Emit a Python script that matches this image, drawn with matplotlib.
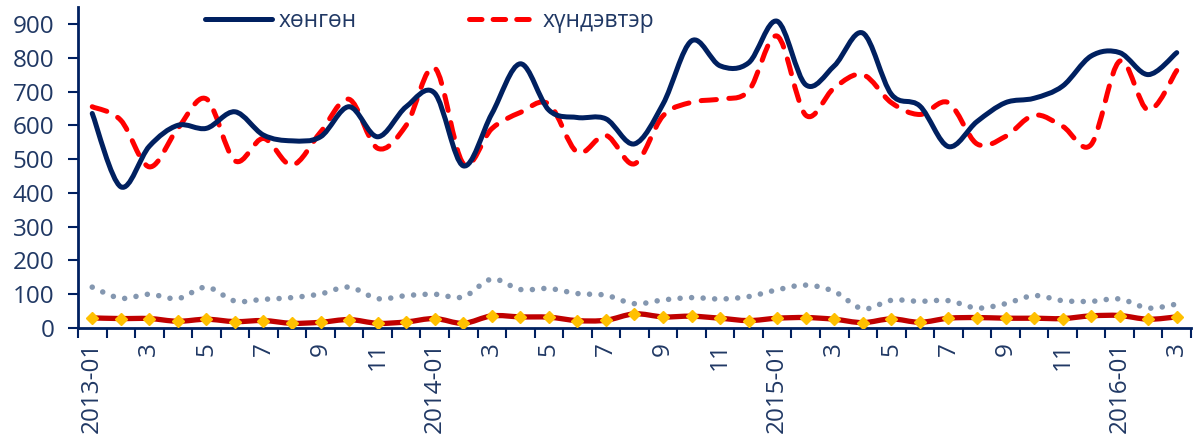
import numpy as np
import matplotlib
matplotlib.use('Agg')
import matplotlib.pyplot as plt
from matplotlib.path import Path
from matplotlib.patches import PathPatch
from matplotlib.lines import Line2D

plt.rcParams['font.family'] = ['Open Sans', 'DejaVu Sans']
plt.rcParams['lines.scale_dashes'] = False

# --- data: monthly, 2013-01 .. 2016-03 ---
months = ['2013-01', '2', '3', '4', '5', '6', '7', '8', '9', '10', '11', '12',
          '2014-01', '2', '3', '4', '5', '6', '7', '8', '9', '10', '11', '12',
          '2015-01', '2', '3', '4', '5', '6', '7', '8', '9', '10', '11', '12',
          '2016-01', '2', '3']

light = [635, 418, 538, 600, 591, 640, 571, 554, 566, 655, 566, 655,
         695, 480, 634, 782, 645, 623, 619, 545, 663, 850, 776, 785,
         908, 720, 776, 873, 692, 657, 537, 611, 667, 680, 716, 805,
         815, 750, 815]

heavy = [655, 615, 477, 591, 678, 495, 561, 482, 580, 677, 532, 600,
         770, 487, 590, 638, 663, 520, 570, 486, 628, 668, 678, 702,
         864, 630, 711, 750, 667, 632, 667, 545, 567, 630, 597, 543,
         790, 645, 762]

medium = [121, 88, 100, 87, 121, 80, 85, 90, 101, 121, 87, 96,
          100, 92, 145, 114, 117, 102, 97, 72, 83, 90, 86, 93,
          113, 127, 108, 57, 82, 79, 81, 59, 72, 96, 81, 79,
          86, 59, 71]

severe = [30, 28, 28, 20, 26, 19, 22, 14, 17, 25, 14, 18,
          28, 14, 36, 33, 32, 22, 23, 42, 33, 35, 29, 22,
          29, 31, 26, 16, 27, 17, 29, 31, 29, 29, 28, 36,
          37, 26, 33]

NAVY = '#002060'
TEXT = '#203864'


def smooth_path(x, y):
    """Кривая Безье через все точки (сглаживание как в Excel)."""
    pts = np.column_stack([x, y]).astype(float)
    n = len(pts)
    verts = [pts[0]]
    codes = [Path.MOVETO]
    for i in range(n - 1):
        p0 = pts[i - 1] if i > 0 else pts[i]
        p1 = pts[i]
        p2 = pts[i + 1]
        p3 = pts[i + 2] if i + 2 < n else pts[i + 1]
        c1 = p1 + (p2 - p0) / 6.0
        c2 = p2 - (p3 - p1) / 6.0
        verts += [c1, c2, p2]
        codes += [Path.CURVE4] * 3
    return Path(verts, codes)


def add_curve(ax, x, y, **kw):
    patch = PathPatch(smooth_path(x, y), fill=False, transform=ax.transData,
                      capstyle='round', joinstyle='round', **kw)
    ax.add_patch(patch)
    return patch


fig = plt.figure(figsize=(11.94, 4.4), dpi=100)
ax = fig.add_axes([0.0653, 0.2545, 0.9322, 0.7295])

x = np.arange(len(months))

add_curve(ax, x, medium, edgecolor='#8497B0', linewidth=4.0,
          linestyle=(0, (0.01, 8.3)), zorder=2)
add_curve(ax, x, severe, edgecolor='#C00000', linewidth=3.8, zorder=3)
ax.plot(x, severe, linestyle='none', marker='D', markersize=6.5,
        color='#FFC000', markeredgecolor='#FFC000', zorder=4)
add_curve(ax, x, heavy, edgecolor='#FF0000', linewidth=3.6,
          linestyle=(0, (11, 9)), zorder=5)
add_curve(ax, x, light, edgecolor=NAVY, linewidth=3.6, zorder=6)

ax.set_xlim(-0.5, len(months) - 0.5)
ax.set_ylim(0, 950)

# оси
for side in ['top', 'right']:
    ax.spines[side].set_visible(False)
for side in ['left', 'bottom']:
    ax.spines[side].set_color(NAVY)
    ax.spines[side].set_linewidth(2)

ax.set_yticks(np.arange(0, 901, 100))
ax.tick_params(axis='y', which='major', length=7, width=1.5, color=NAVY,
               labelsize=17.5, labelcolor=TEXT, pad=10)

ax.set_xticks(np.arange(-0.5, len(months), 1.0))
ax.set_xticklabels([])
ax.tick_params(axis='x', which='major', length=7, width=1.5, color=NAVY)
ax.set_xticks(x[::2], minor=True)
ax.set_xticklabels(months[::2], minor=True, rotation=90)
ax.tick_params(axis='x', which='minor', length=0, labelsize=17.5,
               labelcolor=TEXT, pad=10)

# легенда
handles = [Line2D([], [], color=NAVY, linewidth=3.6, solid_capstyle='round'),
           Line2D([], [], color='#FF0000', linewidth=3.6,
                  linestyle=(0, (9, 8)), dash_capstyle='round')]
leg = fig.legend(handles, ['хөнгөн', 'хүндэвтэр'], loc='center left',
                 bbox_to_anchor=(0.172, 0.952), ncol=2, frameon=False,
                 handlelength=2.9, handletextpad=0.3, columnspacing=4.9,
                 fontsize=16.5, borderpad=0, borderaxespad=0)
for t in leg.get_texts():
    t.set_color(TEXT)

fig.savefig('out.png', dpi=100)
